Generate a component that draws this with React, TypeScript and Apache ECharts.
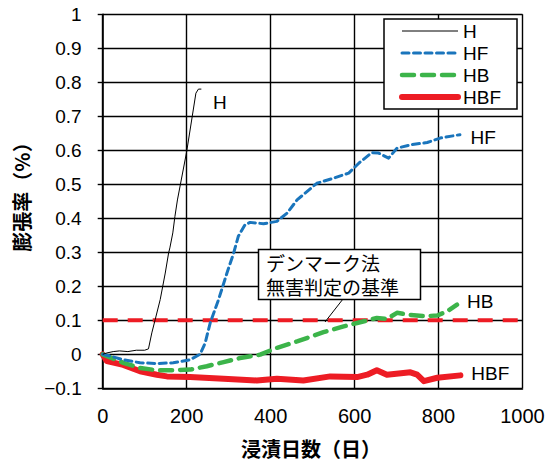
import React, { useEffect, useRef } from "react";
import * as echarts from "echarts";

// 浸漬日数 (days) and 膨張率 (%) for each specimen
const hDays = [0, 10, 25, 40, 60, 80, 100, 109, 117, 125, 137, 149, 157, 160, 167, 172, 178, 200, 222, 228, 235];
const hRate = [0, 0.004, 0.008, 0.01, 0.008, 0.012, 0.012, 0.016, 0.063, 0.102, 0.161, 0.239, 0.298, 0.313, 0.357, 0.405, 0.454, 0.596, 0.768, 0.78, 0.78];

const hfDays = [0, 20, 49, 89, 129, 168, 208, 232, 244, 256, 276, 296, 312, 323, 339, 351, 383, 415, 439, 463, 510, 550, 586, 610, 641, 657, 681, 701, 733, 773, 804, 851];
const hfRate = [0, -0.006, -0.016, -0.025, -0.027, -0.025, -0.016, 0, 0.033, 0.092, 0.161, 0.239, 0.298, 0.347, 0.381, 0.388, 0.384, 0.391, 0.415, 0.454, 0.503, 0.518, 0.533, 0.562, 0.593, 0.592, 0.577, 0.606, 0.616, 0.623, 0.636, 0.646];

const hbDays = [0, 49, 89, 129, 168, 208, 248, 288, 327, 375, 415, 463, 526, 574, 606, 653, 677, 701, 725, 765, 797, 820, 844];
const hbRate = [0, -0.025, -0.04, -0.047, -0.047, -0.045, -0.035, -0.023, -0.011, -0.001, 0.019, 0.038, 0.065, 0.082, 0.092, 0.107, 0.104, 0.122, 0.117, 0.112, 0.114, 0.126, 0.146];

const hbfDays = [0, 10, 49, 89, 129, 153, 208, 288, 367, 415, 478, 542, 606, 630, 653, 677, 733, 749, 765, 797, 852];
const hbfRate = [0, -0.02, -0.031, -0.05, -0.06, -0.065, -0.067, -0.072, -0.077, -0.072, -0.077, -0.065, -0.067, -0.06, -0.047, -0.06, -0.053, -0.06, -0.079, -0.069, -0.062];

// デンマーク法 無害判定の基準 (expansion limit)
const criterionDays = [0, 1000];
const criterionRate = [0.1, 0.1];

// where each series' name is written inside the plot
const seriesNames = ["H", "HF", "HB", "HBF"];
const nameLabelDays = [263, 876, 868, 878];
const nameLabelRate = [0.742, 0.637, 0.155, -0.057];

const colors = ["#000000", "#1a75bc", "#3cb44a", "#ed1c24"];
const widths = [1, 3, 4.5, 6];
const dashes: any[] = ["solid", [7, 4.5], [12, 8], "solid"];

const latin = "'Liberation Sans', Arial, 'Noto Sans CJK JP', sans-serif";
const cjk = "'Noto Sans CJK JP', 'Liberation Sans', sans-serif";

const zip = (xs: number[], ys: number[]) => xs.map((x, i) => [x, ys[i]]);

export default function App() {
  const ref = useRef<HTMLDivElement>(null);

  useEffect(() => {
    if (!ref.current) return;
    const chart = echarts.init(ref.current, null, { renderer: "svg" });

    const lineStyleOf = (i: number) => ({
      color: colors[i],
      width: widths[i],
      type: dashes[i],
      cap: i === 0 ? "butt" : "round",
      join: "round",
    });

    const nameMark = (i: number) => ({
      symbol: "circle",
      symbolSize: 0,
      silent: true,
      label: {
        show: true,
        position: "inside",
        formatter: seriesNames[i],
        color: "#000",
        fontSize: 19,
        fontFamily: latin,
        align: "left",
      },
      data: [{ coord: [nameLabelDays[i], nameLabelRate[i]] }],
    });

    const datasets = [zip(hDays, hRate), zip(hfDays, hfRate), zip(hbDays, hbRate), zip(hbfDays, hbfRate)];
    const zs = [5, 4, 3, 2];

    const option: any = {
      animation: false,
      backgroundColor: "#fff",
      grid: { left: 102.7, right: 25.5, top: 14.3, bottom: 74.7, containLabel: false },
      xAxis: {
        type: "value",
        min: 0,
        max: 1000,
        interval: 200,
        axisLine: { show: true, onZero: false, lineStyle: { color: "#000", width: 1.6 } },
        axisTick: { show: false },
        axisLabel: {
          color: "#000",
          fontSize: 20,
          fontFamily: latin,
          margin: 18,
          formatter: (v: number) => String(v),
        },
        splitLine: { show: true, lineStyle: { color: "#000", width: 1.4 } },
      },
      yAxis: {
        type: "value",
        min: -0.1,
        max: 1,
        interval: 0.1,
        axisLine: { show: true, onZero: false, lineStyle: { color: "#000", width: 1.6 } },
        axisTick: { show: true, inside: false, length: 5, lineStyle: { color: "#000", width: 1.4 } },
        axisLabel: {
          color: "#000",
          fontSize: 19,
          fontFamily: latin,
          margin: 21,
          formatter: (v: number) => {
            const r = Math.round(v * 10) / 10;
            return r < 0 ? "\u2212" + String(Math.abs(r)) : String(r);
          },
        },
        splitLine: { show: true, lineStyle: { color: "#000", width: 1.4 } },
      },
      legend: {
        orient: "vertical",
        right: 31,
        top: 19,
        data: seriesNames.map((name, i) => ({
          name,
          lineStyle: lineStyleOf(i),
          itemStyle: { opacity: 0 },
        })),
        backgroundColor: "#fff",
        borderColor: "#000",
        borderWidth: 1.5,
        borderRadius: 0,
        padding: [1, 16, 1, 15],
        itemWidth: 56,
        itemHeight: 14,
        itemGap: 0,
        itemStyle: { opacity: 0 },
        textStyle: { color: "#000", fontSize: 19, fontFamily: latin, lineHeight: 22 },
      },
      series: [
        {
          name: "基準",
          type: "line",
          data: zip(criterionDays, criterionRate),
          symbol: "none",
          silent: true,
          lineStyle: { color: "#ed1c24", width: 4, type: [15, 10] },
          z: 1,
        },
        ...seriesNames.map((name, i) => ({
          name,
          type: "line",
          data: datasets[i],
          symbol: "none",
          lineStyle: lineStyleOf(i),
          itemStyle: { color: colors[i] },
          markPoint: nameMark(i),
          z: zs[i],
        })),
      ],
      graphic: [
        {
          type: "text",
          x: 21,
          y: 192,
          rotation: Math.PI / 2,
          style: {
            text: "膨張率（%）",
            font: `bold 20px ${cjk}`,
            fill: "#000",
            align: "center",
            verticalAlign: "middle",
          },
        },
        {
          type: "text",
          x: 311,
          y: 448,
          style: {
            text: "浸漬日数（日）",
            font: `bold 20px ${cjk}`,
            fill: "#000",
            align: "center",
            verticalAlign: "middle",
          },
        },
        {
          type: "rect",
          shape: { x: 258.5, y: 249.5, width: 162, height: 50 },
          style: { fill: "#fff", stroke: "#000", lineWidth: 1.5 },
          z: 100,
        },
        {
          type: "text",
          x: 266,
          y: 262,
          style: {
            text: "デンマーク法",
            font: `19px ${cjk}`,
            lineHeight: 21,
            fill: "#000",
            align: "left",
            verticalAlign: "middle",
          },
          z: 101,
        },
        {
          type: "text",
          x: 266,
          y: 286,
          style: {
            text: "無害判定の基準",
            font: `19px ${cjk}`,
            lineHeight: 21,
            fill: "#000",
            align: "left",
            verticalAlign: "middle",
          },
          z: 101,
        },
        {
          type: "line",
          shape: { x1: 343, y1: 299, x2: 325, y2: 322 },
          style: { stroke: "#000", lineWidth: 1 },
          z: 100,
        },
      ],
    };

    chart.setOption(option);
    return () => chart.dispose();
  }, []);

  return (
    <div
      ref={ref}
      style={{ position: "fixed", left: 0, top: 0, width: 548, height: 463, background: "#fff" }}
    />
  );
}
